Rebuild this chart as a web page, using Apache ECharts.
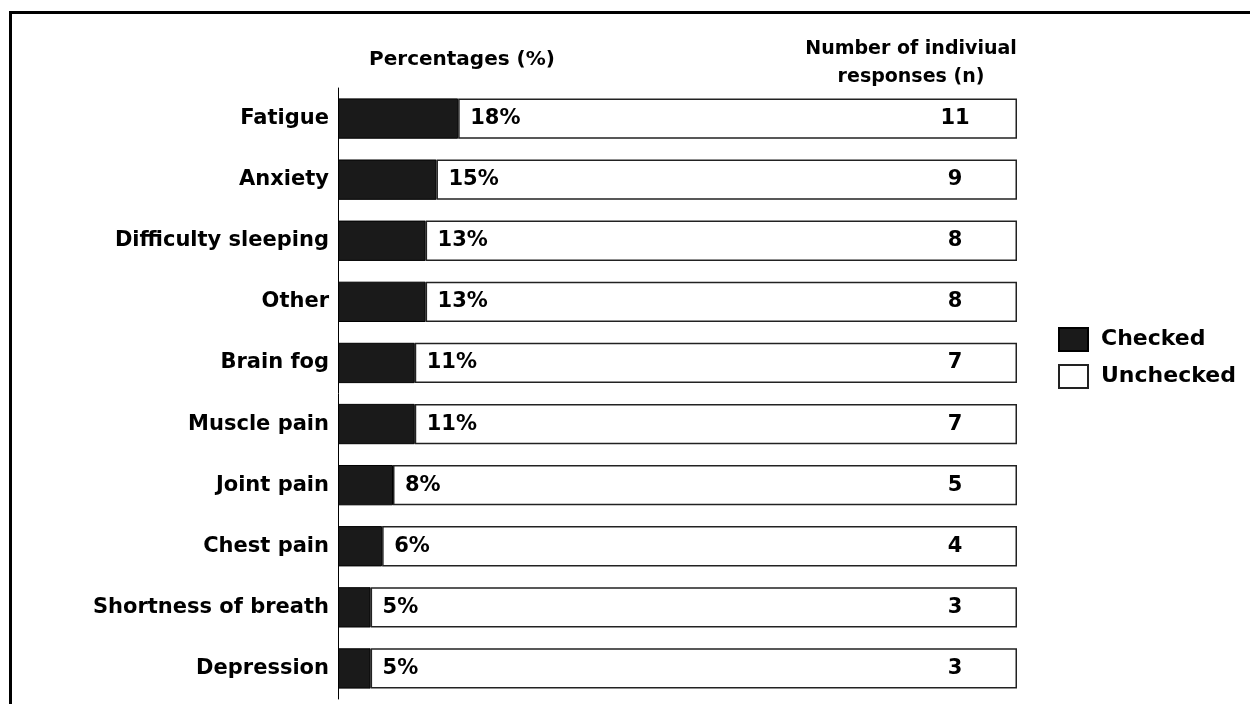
<!DOCTYPE html>
<html>
<head>
<meta charset="utf-8">
<script src="https://cdn.jsdelivr.net/npm/echarts@6/dist/echarts.min.js"></script>
<style>
  html, body { margin: 0; padding: 0; background: #fff; }
  #chart { width: 1250px; height: 704px; }
</style>
</head>
<body>
<div id="chart"></div>
<script>
// symptoms, top to bottom
var symptoms = ['Fatigue', 'Anxiety', 'Difficulty sleeping', 'Other', 'Brain fog',
                'Muscle pain', 'Joint pain', 'Chest pain', 'Shortness of breath', 'Depression'];
// percentage checked
var checkedPct = [17.7, 14.5, 12.9, 12.9, 11.3, 11.3, 8.1, 6.5, 4.8, 4.8];
// percentage unchecked (rest of the bar)
var uncheckedPct = [82.3, 85.5, 87.1, 87.1, 88.7, 88.7, 91.9, 93.5, 95.2, 95.2];
// labels shown on the bars
var pctLabels = ['18%', '15%', '13%', '13%', '11%', '11%', '8%', '6%', '5%', '5%'];
var counts = [11, 9, 8, 8, 7, 7, 5, 4, 3, 3];

var font = 'DejaVu Sans';
var chart = echarts.init(document.getElementById('chart'));

var option = {
    backgroundColor: '#fff',
    animation: false,
    grid: { left: 338, right: 233, top: 88, height: 611 },
    legend: {
        orient: 'vertical',
        left: 1053,
        top: 322,
        icon: 'rect',
        itemWidth: 29,
        itemHeight: 23,
        itemGap: 12,
        textStyle: { fontFamily: font, fontWeight: 'bold', fontSize: 22, color: '#000', padding: [0, 0, 0, 8] },
        data: ['Checked', 'Unchecked']
    },
    xAxis: { type: 'value', min: 0, max: 100, show: false },
    yAxis: {
        type: 'category',
        inverse: true,
        data: symptoms,
        axisLine: { lineStyle: { color: '#000', width: 1 } },
        axisTick: { alignWithLabel: true, length: 7, lineStyle: { color: '#000' } },
        axisLabel: { fontFamily: font, fontWeight: 'bold', fontSize: 21, color: '#000', margin: 9 }
    },
    series: [
        {
            name: 'Checked',
            type: 'bar',
            stack: 'all',
            z: 3,
            barCategoryGap: '34%',
            data: checkedPct,
            itemStyle: { color: '#1a1a1a', borderColor: '#000', borderWidth: 1 },
            label: {
                show: true,
                position: 'right',
                distance: 12,
                formatter: function (p) { return pctLabels[p.dataIndex]; },
                fontFamily: font, fontWeight: 'bold', fontSize: 21, color: '#000'
            }
        },
        {
            name: 'Unchecked',
            type: 'bar',
            stack: 'all',
            barCategoryGap: '34%',
            data: uncheckedPct,
            itemStyle: { color: '#fff', borderColor: '#222', borderWidth: 1.5 },
            label: {
                show: true,
                position: ['100%', '50%'],
                offset: [-62, 0],
                align: 'center',
                verticalAlign: 'middle',
                formatter: function (p) { return counts[p.dataIndex]; },
                fontFamily: font, fontWeight: 'bold', fontSize: 21, color: '#000'
            }
        }
    ],
    graphic: [
        { type: 'line', shape: { x1: 10.5, y1: 12.5, x2: 1250, y2: 12.5 }, style: { stroke: '#000', lineWidth: 3 } },
        { type: 'line', shape: { x1: 10.5, y1: 11, x2: 10.5, y2: 704 }, style: { stroke: '#000', lineWidth: 3 } },
        { type: 'text', x: 462, y: 60, style: { text: 'Percentages (%)', font: 'bold 20px "DejaVu Sans"', fill: '#000', align: 'center', verticalAlign: 'middle' } },
        { type: 'text', x: 911, y: 49, style: { text: 'Number of indiviual', font: 'bold 19px "DejaVu Sans"', fill: '#000', align: 'center', verticalAlign: 'middle' } },
        { type: 'text', x: 911, y: 77, style: { text: 'responses (n)', font: 'bold 19px "DejaVu Sans"', fill: '#000', align: 'center', verticalAlign: 'middle' } }
    ]
};

chart.setOption(option);
</script>
</body>
</html>
